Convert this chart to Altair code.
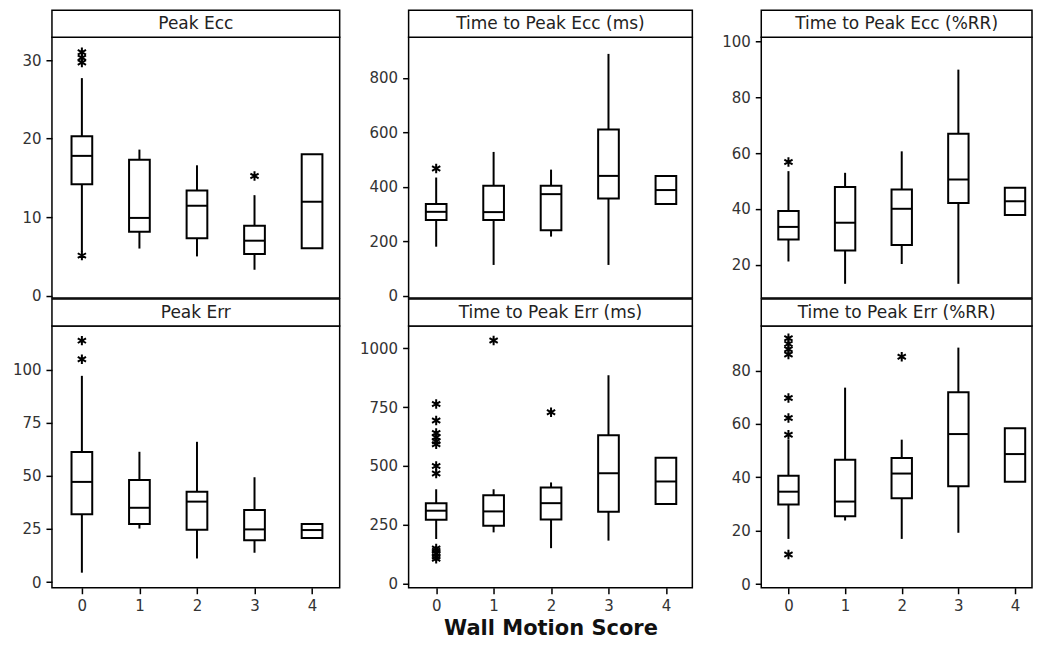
import altair as alt
import pandas as pd

WMS = [0, 1, 2, 3, 4]

TITLES = ["Peak Ecc", "Time to Peak Ecc (ms)", "Time to Peak Ecc (%RR)",
          "Peak Err", "Time to Peak Err (ms)", "Time to Peak Err (%RR)"]
X_TITLE = "Wall Motion Score"

# Peak Ecc
pe_lo = [5.6, 6.0, 5.0, 3.3, None]
pe_q1 = [14.2, 8.15, 7.3, 5.3, 6.04]
pe_med = [17.8, 9.9, 11.45, 7.0, 11.96]
pe_q3 = [20.3, 17.3, 13.4, 8.9, 18.0]
pe_hi = [27.7, 18.6, 16.6, 12.8, None]
pe_out_x = [0, 0, 0, 0, 3]
pe_out_v = [31.0, 30.3, 29.7, 5.1, 15.25]

# Time to Peak Ecc (ms)
tem_lo = [180, 113, 217, 113, None]
tem_q1 = [278, 278, 240, 357, 337]
tem_med = [308, 307, 373, 440, 388]
tem_q3 = [337, 404, 404, 610, 440]
tem_hi = [434, 528, 463, 888, None]
tem_out_x = [0]
tem_out_v = [467]

# Time to Peak Ecc (%RR)
ter_lo = [21.1, 13.1, 20.2, 13.1, None]
ter_q1 = [29.0, 25.0, 27.0, 42.1, 37.8]
ter_med = [33.5, 35.0, 40.0, 50.5, 42.7]
ter_q3 = [39.2, 47.8, 46.9, 66.9, 47.5]
ter_hi = [53.5, 52.9, 60.6, 89.9, None]
ter_out_x = [0]
ter_out_v = [56.8]

# Peak Err
pr_lo = [4.4, 25.2, 11.1, 13.8, None]
pr_q1 = [32.0, 27.3, 24.6, 19.7, 20.7]
pr_med = [47.2, 35.0, 37.9, 24.8, 24.5]
pr_q3 = [61.3, 48.1, 42.6, 34.0, 27.4]
pr_hi = [97.2, 61.4, 66.1, 49.4, None]
pr_out_x = [0, 0]
pr_out_v = [113.8, 105.0]

# Time to Peak Err (ms)
trm_lo = [190, 218, 151, 183, None]
trm_q1 = [272, 246, 273, 306, 338]
trm_med = [310, 307, 342, 469, 434]
trm_q3 = [342, 376, 408, 630, 535]
trm_hi = [401, 401, 430, 885, None]
trm_out_x = [0, 0, 0, 0, 0, 0, 0, 0, 0, 0, 0, 0, 0, 1, 2]
trm_out_v = [763, 693, 640, 622, 605, 592, 500, 468, 150, 140, 128, 116, 106, 1032, 728]

# Time to Peak Err (%RR)
trr_lo = [16.9, 23.8, 16.9, 19.2, None]
trr_q1 = [29.8, 25.4, 32.1, 36.6, 38.3]
trr_med = [34.6, 30.9, 41.4, 56.2, 48.7]
trr_q3 = [40.6, 46.6, 47.2, 71.9, 58.4]
trr_hi = [54.1, 73.6, 54.1, 88.6, None]
trr_out_x = [0, 0, 0, 0, 0, 0, 0, 0, 2]
trr_out_v = [92.1, 90.0, 88.0, 86.0, 69.7, 62.2, 55.9, 11.1, 85.2]

Y_TICKS = [[0, 10, 20, 30], [0, 200, 400, 600, 800], [20, 40, 60, 80, 100],
           [0, 25, 50, 75, 100], [0, 250, 500, 750, 1000], [0, 20, 40, 60, 80]]
Y_DOMAINS = [[-0.3, 32.9], [-8.5, 949], [8.0, 101.5],
             [-2.7, 120.7], [-17, 1094], [-1.4, 96.7]]

WIDTHS = [288, 284, 271]
X_DOMAINS = [[-0.52, 4.48], [-0.48, 4.46], [-0.48, 4.3]]
HEIGHTS = [261, 262]
HEADER_H = 27
FONT = "DejaVu Sans"
ASTER = "M0,-1L0,1M-0.87,-0.5L0.87,0.5M-0.87,0.5L0.87,-0.5"

STATS = [
    (pe_lo, pe_q1, pe_med, pe_q3, pe_hi, pe_out_x, pe_out_v),
    (tem_lo, tem_q1, tem_med, tem_q3, tem_hi, tem_out_x, tem_out_v),
    (ter_lo, ter_q1, ter_med, ter_q3, ter_hi, ter_out_x, ter_out_v),
    (pr_lo, pr_q1, pr_med, pr_q3, pr_hi, pr_out_x, pr_out_v),
    (trm_lo, trm_q1, trm_med, trm_q3, trm_hi, trm_out_x, trm_out_v),
    (trr_lo, trr_q1, trr_med, trr_q3, trr_hi, trr_out_x, trr_out_v),
]


def panel(i):
    lo, q1, med, q3, hi, ox, ov = STATS[i]
    col = i % 3
    row = i // 3
    W = WIDTHS[col]
    H = HEIGHTS[row]
    bottom = row == 1

    xscale = alt.Scale(domain=X_DOMAINS[col], nice=False, zero=False)
    yscale = alt.Scale(domain=Y_DOMAINS[i], nice=False, zero=False)
    if bottom:
        xaxis = alt.Axis(
            values=WMS, format="d",
            title=X_TITLE if i == 4 else None,
            titleFont=FONT, titleFontSize=21, titleFontWeight="bold",
            titleColor="#111", titlePadding=4,
        )
    else:
        xaxis = None
    yaxis = alt.Axis(values=Y_TICKS[i], title=None, format="d")

    boxes = pd.DataFrame({"wms": WMS, "q1": q1, "med": med, "q3": q3})
    boxes["xl"] = boxes["wms"] - 0.18
    boxes["xr"] = boxes["wms"] + 0.18

    wrows = []
    for w, a, b, c, d in zip(WMS, lo, q1, q3, hi):
        if a is not None:
            wrows.append({"wms": w, "a": a, "b": b})
        if d is not None:
            wrows.append({"wms": w, "a": c, "b": d})
    whisk = pd.DataFrame(wrows)
    outs = pd.DataFrame({"wms": ox, "v": ov})

    x_main = alt.X("wms:Q", scale=xscale, axis=xaxis)

    whisker = alt.Chart(whisk).mark_rule(color="black", strokeWidth=2).encode(
        x=x_main,
        y=alt.Y("a:Q", scale=yscale, axis=yaxis),
        y2="b:Q",
    )
    box = alt.Chart(boxes).mark_rect(fillOpacity=0, stroke="black", strokeWidth=2).encode(
        x=alt.X("xl:Q", scale=xscale, axis=xaxis),
        x2="xr:Q",
        y=alt.Y("q1:Q", scale=yscale, axis=yaxis),
        y2="q3:Q",
    )
    median = alt.Chart(boxes).mark_rule(color="black", strokeWidth=2).encode(
        x=alt.X("xl:Q", scale=xscale, axis=xaxis),
        x2="xr:Q",
        y=alt.Y("med:Q", scale=yscale, axis=yaxis),
    )
    outl = alt.Chart(outs).mark_point(
        shape=ASTER, size=90, filled=False, stroke="black", strokeWidth=2, opacity=1
    ).encode(
        x=x_main,
        y=alt.Y("v:Q", scale=yscale, axis=yaxis),
    )

    hdr_data = alt.Data(values=[{"t": TITLES[i]}])
    header = alt.Chart(hdr_data).mark_rect(
        fill="white", stroke="black", strokeWidth=1.5, clip=False
    ).encode(
        x=alt.value(0), x2=alt.value(W),
        y=alt.value(-HEADER_H), y2=alt.value(0),
    )
    htext = alt.Chart(hdr_data).mark_text(
        font=FONT, fontSize=17, color="#222", baseline="middle", align="center", clip=False
    ).encode(
        x=alt.value(W / 2), y=alt.value(-HEADER_H / 2 + 0.5), text="t:N"
    )

    return alt.layer(header, htext, whisker, box, median, outl).properties(
        width=W, height=H
    )


chart = alt.concat(
    *[panel(i) for i in range(6)],
    columns=3,
    spacing={"row": 28, "column": 69},
    bounds="flush",
    align="each",
).properties(
    padding={"left": 3, "top": 0, "right": 0, "bottom": 2},
).configure_view(
    stroke="black", strokeWidth=1.5
).configure_axis(
    labelFont=FONT, labelFontSize=15, labelColor="#333", tickColor="black",
    tickWidth=1.5, tickSize=6, labelPadding=5, domain=False, grid=False,
)

chart.save("out.html", embed_options={"renderer": "svg", "actions": False})
